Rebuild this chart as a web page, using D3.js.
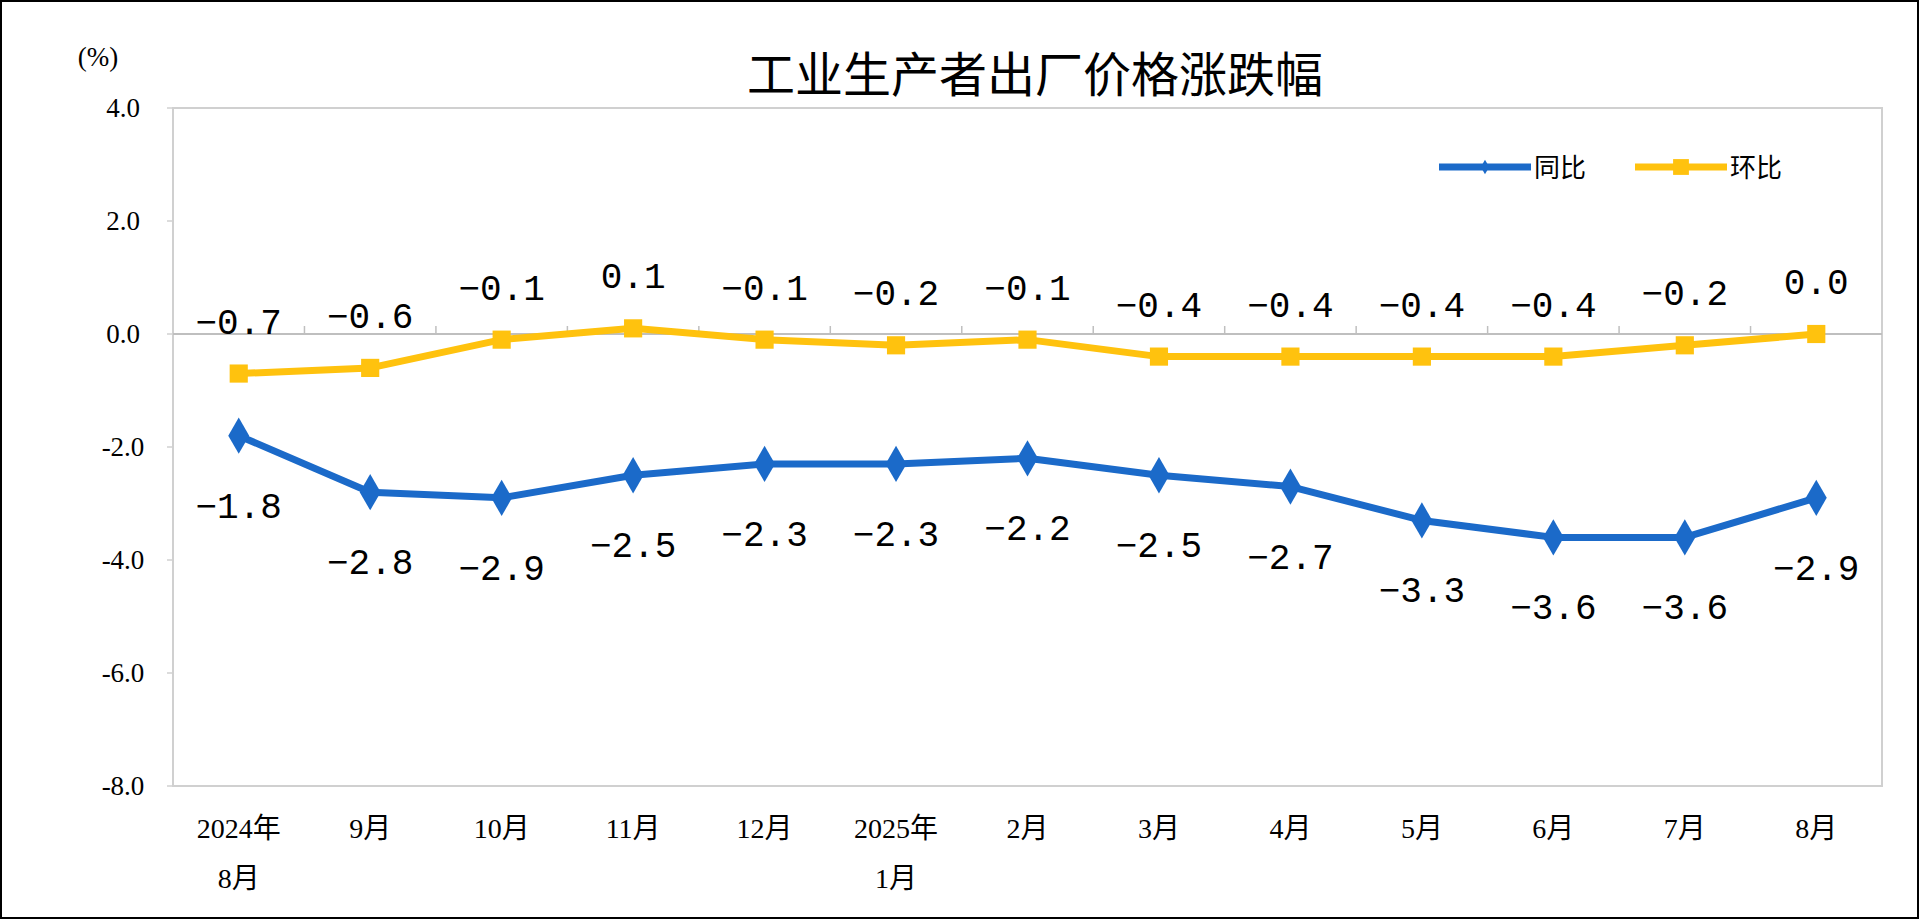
<!DOCTYPE html>
<html lang="zh">
<head>
<meta charset="UTF-8">
<title>工业生产者出厂价格涨跌幅</title>
<script src="https://cdn.jsdelivr.net/npm/d3@7"></script>
<style>
  body { margin: 0; background: #fff; }
  svg { display: block; }
</style>
</head>
<body>
<svg id="chart" width="1920" height="920"></svg>
<script>
    // data
    var months = ["2024年\n8月", "9月", "10月", "11月", "12月", "2025年\n1月", "2月", "3月", "4月", "5月", "6月", "7月", "8月"];
    var tongbi = [-1.8, -2.8, -2.9, -2.5, -2.3, -2.3, -2.2, -2.5, -2.7, -3.3, -3.6, -3.6, -2.9];
    var huanbi = [-0.7, -0.6, -0.1, 0.1, -0.1, -0.2, -0.1, -0.4, -0.4, -0.4, -0.4, -0.2, 0.0];
    var yTicks = [4, 2, 0, -2, -4, -6, -8];

    var svg = d3.select("#chart");
    var pLeft = 173, pRight = 1882, pTop = 108, pBottom = 786;
    var blue = "#1B6AC9", yellow = "#FFC20E";

    // outer frame
    svg.append("rect").attr("x", 1).attr("y", 1).attr("width", 1917).attr("height", 917)
        .attr("fill", "none").attr("stroke", "#000").attr("stroke-width", 2);

    var x = d3.scalePoint().domain(d3.range(months.length)).range([pLeft, pRight]).padding(0.5);
    var band = (pRight - pLeft) / months.length;
    var y = d3.scaleLinear().domain([-8, 4]).range([pBottom, pTop]);

    // plot border
    svg.append("rect").attr("x", pLeft).attr("y", pTop).attr("width", pRight - pLeft).attr("height", pBottom - pTop)
        .attr("fill", "none").attr("stroke", "#d0d0d0").attr("stroke-width", 2);

    // zero line with small category ticks
    svg.append("line").attr("x1", pLeft).attr("x2", pRight).attr("y1", y(0)).attr("y2", y(0))
        .attr("stroke", "#bfbfbf").attr("stroke-width", 2);
    svg.selectAll(".ctick").data(d3.range(1, months.length)).enter().append("line")
        .attr("x1", function (d) { return pLeft + d * band; })
        .attr("x2", function (d) { return pLeft + d * band; })
        .attr("y1", y(0)).attr("y2", y(0) - 8)
        .attr("stroke", "#bfbfbf").attr("stroke-width", 1.5);

    // y ticks
    svg.selectAll(".ylab").data(yTicks).enter().append("text")
        .attr("x", pLeft - 50).attr("y", function (d) { return y(d) + 9; })
        .attr("text-anchor", "middle")
        .style("font-family", "Liberation Serif").style("font-size", "27px")
        .text(function (d) { return d3.format(".1f")(d).replace("−", "-"); });
    svg.selectAll(".ytk").data(yTicks).enter().append("line")
        .attr("x1", pLeft - 6).attr("x2", pLeft).attr("y1", function (d) { return y(d); }).attr("y2", function (d) { return y(d); })
        .attr("stroke", "#d0d0d0").attr("stroke-width", 1.5);

    svg.append("text").attr("x", 98).attr("y", 66).attr("text-anchor", "middle")
        .style("font-family", "Liberation Serif").style("font-size", "27px").text("(%)");

    // x labels
    svg.selectAll(".xlab").data(months).enter().append("text")
        .attr("x", function (d, i) { return x(i); }).attr("y", 838)
        .attr("text-anchor", "middle")
        .style("font-family", "Liberation Serif, Noto Sans CJK SC").style("font-size", "28px")
        .each(function (d) {
            var t = d3.select(this);
            d.split("\n").forEach(function (s, k) {
                t.append("tspan").attr("x", t.attr("x")).attr("dy", k ? 50 : 0).text(s);
            });
        });

    // title
    svg.append("text").attr("x", 1035).attr("y", 92).attr("text-anchor", "middle")
        .style("font-family", "Noto Sans CJK SC").style("font-size", "48px").text("工业生产者出厂价格涨跌幅");

    var line = d3.line().x(function (d, i) { return x(i); }).y(function (d) { return y(d); });

    function series(vals, color, shape, dy) {
        svg.append("path").datum(vals).attr("d", line)
            .attr("fill", "none").attr("stroke", color).attr("stroke-width", 7).attr("stroke-linejoin", "round");
        svg.selectAll(null).data(vals).enter().append("path")
            .attr("transform", function (d, i) { return "translate(" + x(i) + "," + y(d) + ")"; })
            .attr("d", d3.symbol().type(shape).size(shape === d3.symbolSquare ? 330 : 380))
            .attr("fill", color);
        svg.selectAll(null).data(vals).enter().append("text")
            .attr("x", function (d, i) { return x(i); })
            .attr("y", function (d) { return y(d) + dy; })
            .attr("text-anchor", "middle")
            .style("font-family", "Liberation Mono").style("font-size", "36px")
            .text(function (d) { return d.toFixed(1).replace("-", "−"); });
    }
    series(huanbi, yellow, d3.symbolSquare, -40);
    series(tongbi, blue, d3.symbolDiamond, 82);

    // legend
    var lg = svg.append("g").style("font-family", "Noto Sans CJK SC").style("font-size", "26px");
    [[blue, "同比", 1439, d3.symbolDiamond], [yellow, "环比", 1635, d3.symbolSquare]].forEach(function (e) {
        lg.append("line").attr("x1", e[2]).attr("x2", e[2] + 92).attr("y1", 167).attr("y2", 167)
            .attr("stroke", e[0]).attr("stroke-width", 7);
        lg.append("path").attr("transform", "translate(" + (e[2] + 46) + ",167)")
            .attr("d", d3.symbol().type(e[3]).size(e[3] === d3.symbolSquare ? 250 : 60)).attr("fill", e[0]);
        lg.append("text").attr("x", e[2] + 95).attr("y", 177).text(e[1]);
    });
</script>
</body>
</html>
